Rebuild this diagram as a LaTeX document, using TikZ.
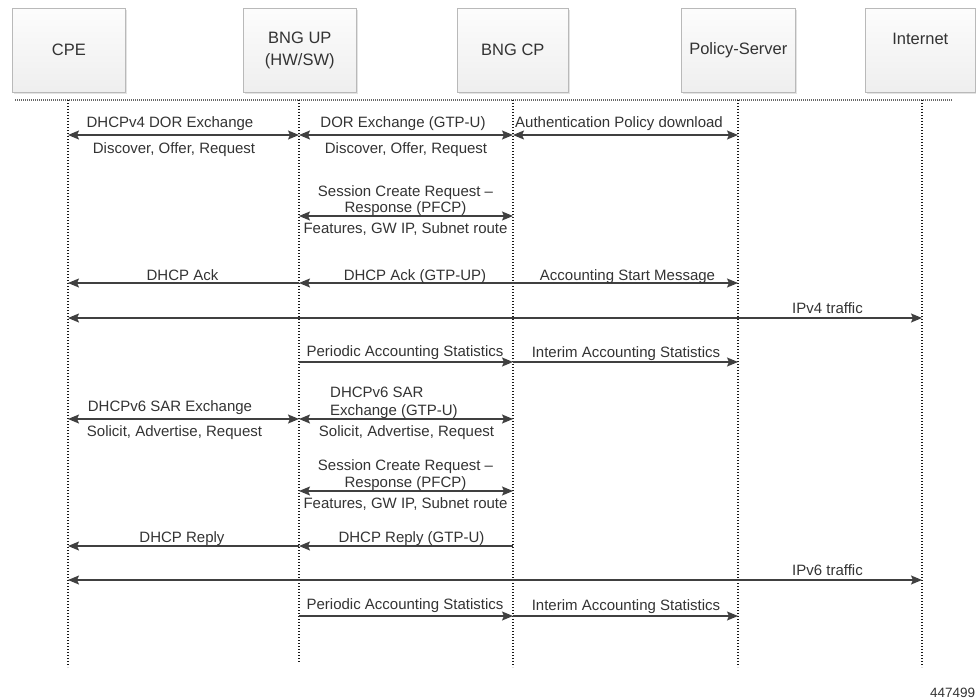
\documentclass[tikz,border=0pt]{standalone}
\usepackage{fontspec}
\setmainfont{Liberation Sans}
\usetikzlibrary{arrows.meta,shadows}
\definecolor{txt}{HTML}{333333}
\definecolor{ln}{HTML}{404040}
\begin{document}
\begin{tikzpicture}[x=1pt,y=-1pt,
  actor/.style={draw=gray!55, line width=0.6pt, top color=gray!2, bottom color=gray!13,
    minimum height=84pt, anchor=north west, inner sep=0pt, align=center,
    font=\fontsize{16.5}{22}\selectfont, text=txt,
    drop shadow={shadow xshift=2pt,shadow yshift=-2pt,opacity=0.22}},
  life/.style={line width=1.5pt, dash pattern=on 1.2pt off 1.8pt, black!90},
  sep/.style={line width=1.1pt, dash pattern=on 1pt off 1pt, black!60},
  msg/.style={line width=1.4pt, draw=ln, -{Stealth[length=11pt,width=9pt,inset=2pt]}},
  bmsg/.style={line width=1.4pt, draw=ln, {Stealth[length=11pt,width=9pt,inset=2pt]}-{Stealth[length=11pt,width=9pt,inset=2pt]}},
  lbl/.style={font=\fontsize{15}{16}\selectfont, text=txt, inner sep=0pt, anchor=base},
  lbll/.style={lbl, anchor=base west},
]
\useasboundingbox (0,0) rectangle (976,698);

% actors
\node[actor, minimum width=113pt] (cpe) at (12,8) {CPE};
\node[actor, minimum width=113pt] (up) at (243,8) {BNG UP\\(HW/SW)};
\node[actor, minimum width=111pt] (cp) at (457,8) {BNG CP};
\node[actor, minimum width=114pt] (ps) at (681,8) {Policy-Server};
\node[actor, minimum width=110pt] (inet) at (865,8) {Internet\\\mbox{}};

% separator
\coordinate (hl) at (15,100);
\coordinate (hr) at (953,100);
\draw[sep] (hl) -- (hr);

% lifelines
\coordinate (lcpe) at (68,100);  \coordinate (ecpe) at (68,667);
\coordinate (lup)  at (299,100); \coordinate (eup)  at (299,663);
\coordinate (lcp)  at (513,100); \coordinate (ecp)  at (513,667);
\coordinate (lps)  at (738,100); \coordinate (eps)  at (738,667);
\coordinate (lin)  at (922,100); \coordinate (ein)  at (922,667);
\draw[life] (lcpe) -- (ecpe);
\draw[life] (lup) -- (eup);
\draw[life] (lcp) -- (ecp);
\draw[life] (lps) -- (eps);
\draw[life] (lin) -- (ein);

% rows
\coordinate (r1) at (0,135);
\coordinate (r2) at (0,216);
\coordinate (r3) at (0,283);
\coordinate (r4) at (0,318);
\coordinate (r5) at (0,362);
\coordinate (r6) at (0,419);
\coordinate (r7) at (0,491);
\coordinate (r8) at (0,546);
\coordinate (r9) at (0,580);
\coordinate (r10) at (0,616);

% row 1
\draw[bmsg] (lcpe |- r1) -- (lup |- r1);
\draw[bmsg] (lup |- r1) -- (lcp |- r1);
\draw[bmsg] (lcp |- r1) -- (lps |- r1);
\node[lbl] (t1a) at (170,128) {DHCPv4 DOR Exchange};
\node[lbl] (t1b) at (174,153) {Discover, Offer, Request};
\node[lbl] (t1c) at (403,128) {DOR Exchange (GTP-U)};
\node[lbl] (t1d) at (406,153) {Discover, Offer, Request};
\node[lbl] (t1e) at (619,128) {Authentication Policy download};

% row 2
\draw[bmsg] (lup |- r2) -- (lcp |- r2);
\node[lbl] (t2a) at (405.5,196.5) {Session Create Request –};
\node[lbl] (t2b) at (405.5,212) {Response (PFCP)};
\node[lbl] (t2c) at (405.5,233) {Features, GW IP, Subnet route};

% row 3
\draw[msg] (lup |- r3) -- (lcpe |- r3);
\draw[msg] (lcp |- r3) -- (lup |- r3);
\draw[msg] (lcp |- r3) -- (lps |- r3);
\node[lbl] (t3a) at (182.5,280) {DHCP Ack};
\node[lbl] (t3b) at (415,280) {DHCP Ack (GTP-UP)};
\node[lbl] (t3c) at (627.5,280) {Accounting Start Message};

% row 4
\draw[bmsg] (lcpe |- r4) -- (lin |- r4);
\node[lbl] (t4a) at (827.5,313) {IPv4 traffic};

% row 5
\draw[msg] (lup |- r5) -- (lcp |- r5);
\draw[msg] (lcp |- r5) -- (lps |- r5);
\node[lbl] (t5a) at (405,356) {Periodic Accounting Statistics};
\node[lbl] (t5b) at (626,357) {Interim Accounting Statistics};

% row 6
\draw[bmsg] (lcpe |- r6) -- (lup |- r6);
\draw[bmsg] (lup |- r6) -- (lcp |- r6);
\node[lbl] (t6a) at (170,411) {DHCPv6 SAR Exchange};
\node[lbl] (t6b) at (174.5,436) {Solicit, Advertise, Request};
\node[lbll] (t6c) at (330,397) {DHCPv6 SAR};
\node[lbll] (t6d) at (330,415) {Exchange (GTP-U)};
\node[lbl] (t6e) at (406.5,436) {Solicit, Advertise, Request};

% row 7
\draw[bmsg] (lup |- r7) -- (lcp |- r7);
\node[lbl] (t7a) at (405.5,470) {Session Create Request –};
\node[lbl] (t7b) at (405.5,487) {Response (PFCP)};
\node[lbl] (t7c) at (405.5,508) {Features, GW IP, Subnet route};

% row 8
\draw[msg] (lup |- r8) -- (lcpe |- r8);
\draw[msg] (lcp |- r8) -- (lup |- r8);
\node[lbl] (t8a) at (182,542) {DHCP Reply};
\node[lbl] (t8b) at (411.5,542) {DHCP Reply (GTP-U)};

% row 9
\draw[bmsg] (lcpe |- r9) -- (lin |- r9);
\node[lbl] (t9a) at (827.5,575) {IPv6 traffic};

% row 10
\draw[msg] (lup |- r10) -- (lcp |- r10);
\draw[msg] (lcp |- r10) -- (lps |- r10);
\node[lbl] (t10a) at (405,609) {Periodic Accounting Statistics};
\node[lbl] (t10b) at (626,610) {Interim Accounting Statistics};

% figure number
\node[font=\fontsize{13.5}{15}\selectfont, text=txt, inner sep=0pt, anchor=base west] (fig) at (930,697) {447499};
\end{tikzpicture}
\end{document}
